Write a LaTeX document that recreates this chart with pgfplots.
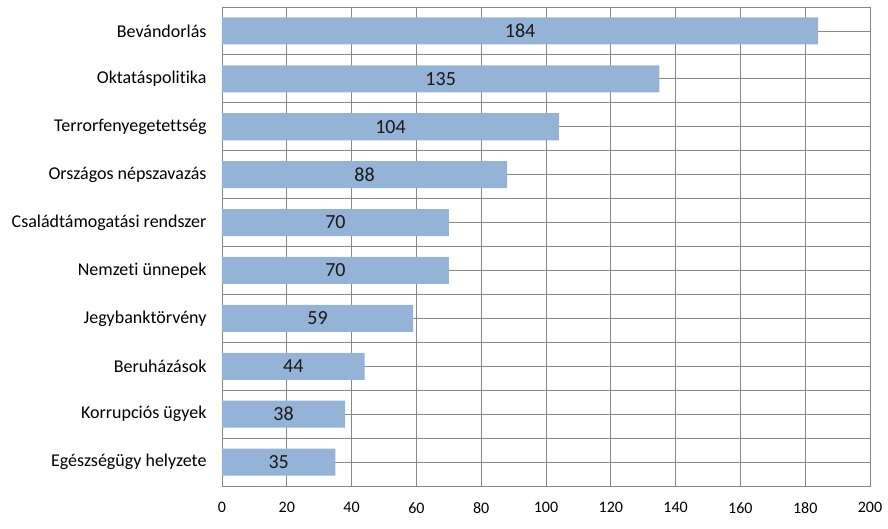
\documentclass[border=0pt]{standalone}
\usepackage{pgfplots}
\pgfplotsset{compat=1.18}
\usepackage{pgfplotstable}
\usepackage{fontspec}
\setmainfont[Ligatures=NoCommon]{Carlito}
\definecolor{barblue}{HTML}{95B3D7}
\definecolor{gridgray}{HTML}{878787}
\pgfplotstableread{
y v
10 184
9 135
8 104
7 88
6 70
5 70
4 59
3 44
2 38
1 35
}\data
\begin{document}
\begin{tikzpicture}
\begin{axis}[
  at={(0pt,0pt)}, anchor=south west,
  scale only axis, width=648pt, height=479pt,
  xmin=0, xmax=200, ymin=0.5, ymax=10.5,
  xtick distance=20,
  ytick={1,...,10},
  yticklabels={Egészségügy helyzete,Korrupciós ügyek,Beruházások,Jegybanktörvény,Nemzeti ünnepek,Családtámogatási rendszer,Országos népszavazás,Terrorfenyegetettség,Oktatáspolitika,Bevándorlás},
  minor ytick={0.5,1.5,...,10.5},
  xmajorgrids, ymajorgrids, yminorgrids,
  grid style={gridgray, line width=0.8pt},
  minor grid style={gridgray, line width=0.8pt},
  axis line style={gridgray, line width=0.8pt},
  major tick length=0pt, minor tick length=0pt,
  /pgf/number format/assume math mode=true,
  xticklabel style={font=\fontsize{16}{18}\selectfont, yshift=-13pt},
  yticklabel style={font=\fontsize{18}{21}\selectfont, xshift=-12pt},
  clip=false,
]
\addplot[xbar, bar width=27pt, fill=barblue, draw=none] table[x=v, y=y] {\data};
\addplot[only marks, mark=none, draw=none,
  nodes near coords, point meta=explicit,
  every node near coord/.style={anchor=center, font=\fontsize{20}{23}\selectfont, text=black!90}]
  table[x expr=\thisrow{v}/2, y=y, meta=v] {\data};
\end{axis}
\pgfresetboundingbox
\path[use as bounding box] (-222pt,-42pt) rectangle (666pt,486pt);
\end{tikzpicture}
\end{document}
